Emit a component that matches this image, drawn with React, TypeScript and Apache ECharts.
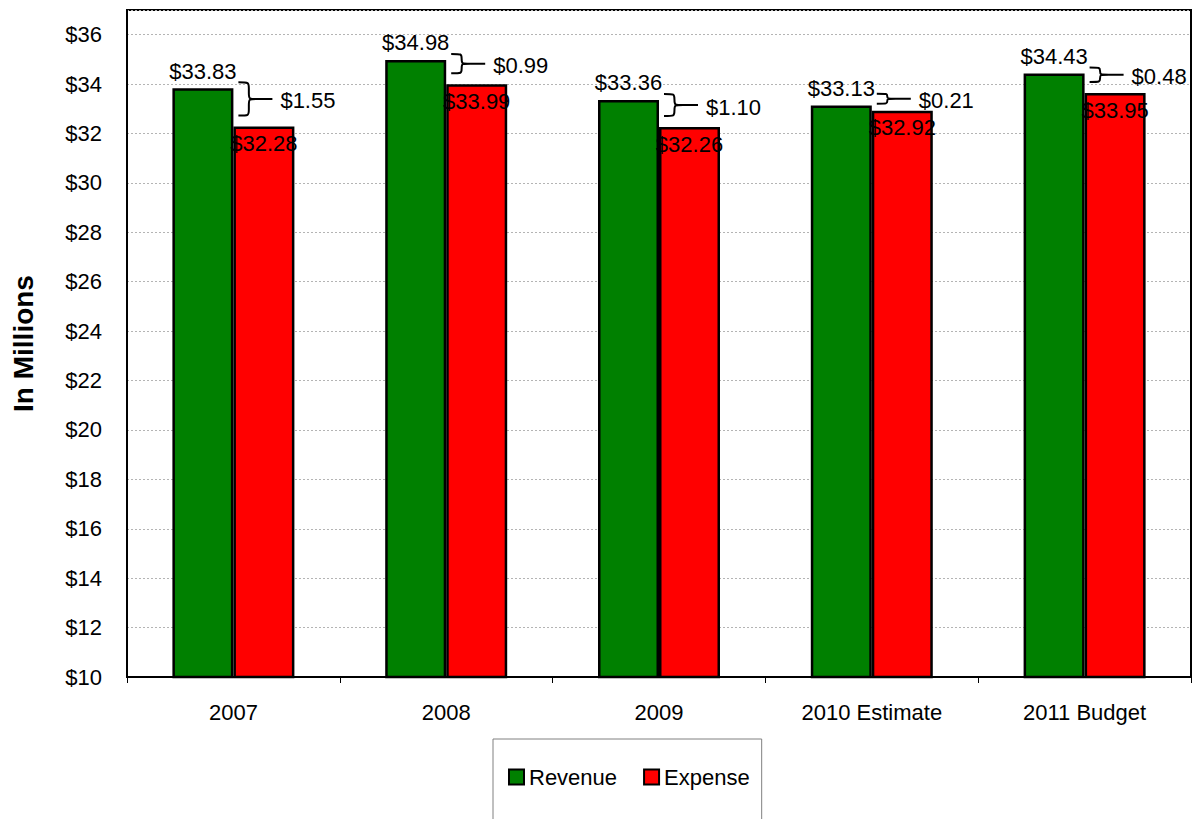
import React, { useEffect, useRef } from "react";
import * as echarts from "echarts";

const categories = ["2007", "2008", "2009", "2010 Estimate", "2011 Budget"];
const revenue = [33.83, 34.98, 33.36, 33.13, 34.43];
const expense = [32.28, 33.99, 32.26, 32.92, 33.64];
const expenseLabels = ["$32.28", "$33.99", "$32.26", "$32.92", "$33.95"];
const differenceLabels = ["$1.55", "$0.99", "$1.10", "$0.21", "$0.48"];
const yTicks = { min: 10, max: 37, interval: 2 };

const FONT = "'Liberation Sans', Arial, sans-serif";
const FS = 22;

export default function App() {
  const ref = useRef<HTMLDivElement>(null);

  useEffect(() => {
    if (!ref.current) return;
    const chart = echarts.init(ref.current, undefined, { renderer: "svg" });

    const braceData = categories.map((_, i) => [i, revenue[i], expense[i], differenceLabels[i]]);

    const option: any = {
      animation: false,
      textStyle: { fontFamily: FONT },
      grid: {
        left: 127,
        right: 3,
        top: 10,
        bottom: 142,
        show: true,
        borderColor: "#000",
        borderWidth: 2,
        backgroundColor: "transparent",
      },
      legend: {
        data: ["Revenue", "Expense"],
        left: 493,
        top: 739,
        padding: [27, 12, 40, 15],
        itemGap: 26,
        itemWidth: 15,
        itemHeight: 15,
        icon: "rect",
        borderColor: "#808080",
        borderWidth: 1,
        textStyle: { fontSize: FS, color: "#000", fontFamily: FONT },
      },
      xAxis: {
        type: "category",
        data: categories,
        boundaryGap: true,
        axisLine: { show: true, lineStyle: { color: "#000", width: 2 } },
        axisTick: { show: true, length: 6, lineStyle: { color: "#000", width: 1 } },
        axisLabel: { fontSize: FS, color: "#000", margin: 24, fontFamily: FONT },
        splitLine: { show: false },
      },
      yAxis: {
        type: "value",
        min: yTicks.min,
        max: yTicks.max,
        interval: yTicks.interval,
        name: "In Millions",
        nameLocation: "middle",
        nameGap: 90,
        nameTextStyle: { fontSize: 28, fontWeight: "bold", color: "#000", fontFamily: FONT },
        axisLine: { show: true, lineStyle: { color: "#000", width: 2 } },
        axisTick: { show: false },
        axisLabel: {
          fontSize: FS,
          color: "#000",
          margin: 25,
          fontFamily: FONT,
          showMaxLabel: false,
          formatter: (v: number) => (v === yTicks.max ? "" : "$" + v),
        },
        splitLine: { show: true, lineStyle: { color: "#b4b4b4", width: 1, type: [2, 2] } },
      },
      series: [
        {
          name: "Revenue",
          type: "bar",
          data: revenue,
          barWidth: 61,
          barGap: "0%",
          itemStyle: { color: "#008000", borderColor: "#000", borderWidth: 2.5 },
          label: {
            show: true,
            position: "top",
            distance: 6,
            fontSize: FS,
            color: "#000",
            fontFamily: FONT,
            formatter: (p: any) => "$" + p.value.toFixed(2),
          },
        },
        {
          name: "Expense",
          type: "bar",
          data: expense,
          barWidth: 61,
          barGap: "0%",
          itemStyle: { color: "#ff0000", borderColor: "#000", borderWidth: 2.5 },
          label: {
            show: true,
            position: "insideTop",
            distance: 6,
            fontSize: FS,
            color: "#000",
            fontFamily: FONT,
            formatter: (p: any) => expenseLabels[p.dataIndex],
          },
        },
        {
          name: "Difference",
          type: "custom",
          data: braceData,
          encode: { x: 0, y: 1 },
          clip: false,
          z: 5,
          renderItem: (params: any, api: any) => {
            const idx = api.value(0);
            const rev = api.value(1);
            const exp = api.value(2);
            const text = differenceLabels[params.dataIndex];
            const pRev = api.coord([idx, rev]);
            const pExp = api.coord([idx, exp]);
            const x0 = pRev[0] + 5;
            let y1 = pRev[1] - 6;
            let y2 = pExp[1] - 11;
            if (y2 - y1 < 10) {
              const c = (y1 + y2) / 2;
              y1 = c - 6;
              y2 = c + 4;
            }
            const ym = (y1 + y2) / 2;
            const w = 19;
            const tail = 15;
            const xs = x0 + w * 0.55;
            const r = Math.min(6, (y2 - y1) / 4);
            const d = [
              `M ${x0} ${y1}`,
              `C ${xs} ${y1} ${xs} ${y1} ${xs} ${y1 + r}`,
              `L ${xs} ${ym - r}`,
              `C ${xs} ${ym} ${xs} ${ym} ${x0 + w} ${ym}`,
              `C ${xs} ${ym} ${xs} ${ym} ${xs} ${ym + r}`,
              `L ${xs} ${y2 - r}`,
              `C ${xs} ${y2} ${xs} ${y2} ${x0} ${y2}`,
              `M ${x0 + w} ${ym} L ${x0 + w + tail} ${ym}`,
            ].join(" ");
            return {
              type: "group",
              children: [
                {
                  type: "path",
                  shape: { pathData: d },
                  style: { stroke: "#000", fill: null, lineWidth: 2 },
                },
                {
                  type: "text",
                  style: {
                    text,
                    x: x0 + w + tail + 8,
                    y: ym + 2,
                    fill: "#000",
                    fontSize: FS,
                    fontFamily: FONT,
                    align: "left",
                    verticalAlign: "middle",
                  },
                },
              ],
            };
          },
        },
      ],
    };

    chart.setOption(option);
    return () => chart.dispose();
  }, []);

  return (
    <div
      ref={ref}
      style={{ position: "fixed", left: 0, top: 0, width: 1194, height: 819, background: "#fff" }}
    />
  );
}
